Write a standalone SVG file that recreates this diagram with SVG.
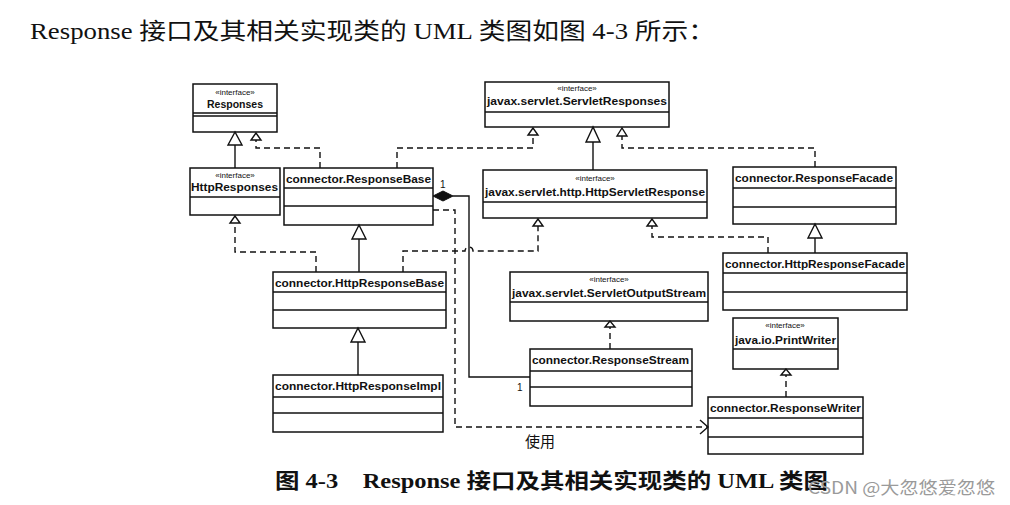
<svg xmlns="http://www.w3.org/2000/svg" width="1010" height="505" viewBox="0 0 1010 505">
<defs>
<style>
.box{fill:#fff;stroke:#111;stroke-width:1.5}
.sep{stroke:#111;stroke-width:1.3}
.nm{font-family:"Liberation Sans",Arial,sans-serif;font-weight:bold;font-size:10.5px;fill:#111}
.st{font-family:"Liberation Sans",Arial,sans-serif;font-size:8px;fill:#111;text-anchor:middle}
.solid{fill:none;stroke:#111;stroke-width:1.4}
.dash{fill:none;stroke:#111;stroke-width:1.4;stroke-dasharray:6,4}
.tri{fill:#fff;stroke:#111;stroke-width:1.4}
.lbl{font-family:"Liberation Sans",Arial,sans-serif;font-size:10px;fill:#111}
</style>
</defs>
<rect width="1010" height="505" fill="#fff"/>
<text x="30" y="39" font-family="'Liberation Serif','Noto Sans CJK SC',serif" font-size="23" fill="#111" textLength="685" lengthAdjust="spacingAndGlyphs">Response 接口及其相关实现类的 UML 类图如图 4-3 所示：</text>

<g id="Responses">
<rect class="box" x="193" y="84" width="84" height="48"/>
<text class="st" x="235" y="95">«interface»</text>
<text class="nm" x="235" y="108" text-anchor="middle">Responses</text>
<line class="sep" x1="193" y1="113" x2="277" y2="113"/>
<line class="sep" x1="193" y1="116" x2="277" y2="116"/>
</g>
<g id="HttpResponses">
<rect class="box" x="190" y="168" width="90" height="47"/>
<text class="st" x="235" y="178">«interface»</text>
<text class="nm" x="191" y="191" textLength="87" lengthAdjust="spacingAndGlyphs">HttpResponses</text>
<line class="sep" x1="190" y1="197" x2="280" y2="197"/>
</g>
<g id="ResponseBase">
<rect class="box" x="284" y="168" width="149" height="57"/>
<text class="nm" x="286" y="183" textLength="145" lengthAdjust="spacingAndGlyphs">connector.ResponseBase</text>
<line class="sep" x1="284" y1="188" x2="433" y2="188"/>
<line class="sep" x1="284" y1="206" x2="433" y2="206"/>
</g>
<g id="ServletResponses">
<rect class="box" x="485" y="82" width="184" height="45"/>
<text class="st" x="577" y="91">«interface»</text>
<text class="nm" x="487" y="105" textLength="180" lengthAdjust="spacingAndGlyphs">javax.servlet.ServletResponses</text>
<line class="sep" x1="485" y1="112" x2="669" y2="112"/>
</g>
<g id="HttpServletResponse">
<rect class="box" x="483" y="170" width="224" height="48"/>
<text class="st" x="595" y="181">«interface»</text>
<text class="nm" x="485" y="196" textLength="220" lengthAdjust="spacingAndGlyphs">javax.servlet.http.HttpServletResponse</text>
<line class="sep" x1="483" y1="202" x2="707" y2="202"/>
</g>
<g id="ResponseFacade">
<rect class="box" x="733" y="167" width="163" height="57"/>
<text class="nm" x="735" y="182" textLength="158" lengthAdjust="spacingAndGlyphs">connector.ResponseFacade</text>
<line class="sep" x1="733" y1="188" x2="896" y2="188"/>
<line class="sep" x1="733" y1="207" x2="896" y2="207"/>
</g>
<g id="HttpResponseFacade">
<rect class="box" x="723" y="253" width="184" height="57"/>
<text class="nm" x="725" y="268" textLength="180" lengthAdjust="spacingAndGlyphs">connector.HttpResponseFacade</text>
<line class="sep" x1="723" y1="273" x2="907" y2="273"/>
<line class="sep" x1="723" y1="292" x2="907" y2="292"/>
</g>
<g id="HttpResponseBase">
<rect class="box" x="273" y="272" width="173" height="56"/>
<text class="nm" x="275" y="287" textLength="169" lengthAdjust="spacingAndGlyphs">connector.HttpResponseBase</text>
<line class="sep" x1="273" y1="292" x2="446" y2="292" stroke-width="2.2"/>
<line class="sep" x1="273" y1="310" x2="446" y2="310"/>
</g>
<g id="HttpResponseImpl">
<rect class="box" x="273" y="375" width="170" height="57"/>
<text class="nm" x="275" y="390" textLength="166" lengthAdjust="spacingAndGlyphs">connector.HttpResponseImpl</text>
<line class="sep" x1="273" y1="397" x2="443" y2="397"/>
<line class="sep" x1="273" y1="413" x2="443" y2="413"/>
</g>
<g id="ServletOutputStream">
<rect class="box" x="510" y="272" width="198" height="49"/>
<text class="st" x="609" y="282">«interface»</text>
<text class="nm" x="512" y="297" textLength="194" lengthAdjust="spacingAndGlyphs">javax.servlet.ServletOutputStream</text>
<line class="sep" x1="510" y1="302" x2="708" y2="302"/>
</g>
<g id="ResponseStream">
<rect class="box" x="530" y="349" width="162" height="57"/>
<text class="nm" x="532" y="364" textLength="157" lengthAdjust="spacingAndGlyphs">connector.ResponseStream</text>
<line class="sep" x1="530" y1="371" x2="692" y2="371"/>
<line class="sep" x1="530" y1="387" x2="692" y2="387"/>
</g>
<g id="PrintWriter">
<rect class="box" x="733" y="318" width="105" height="51"/>
<text class="st" x="785" y="328">«interface»</text>
<text class="nm" x="735" y="344" textLength="101" lengthAdjust="spacingAndGlyphs">java.io.PrintWriter</text>
<line class="sep" x1="733" y1="349" x2="838" y2="349"/>
</g>
<g id="ResponseWriter">
<rect class="box" x="708" y="397" width="155" height="57"/>
<text class="nm" x="710" y="412" textLength="151" lengthAdjust="spacingAndGlyphs">connector.ResponseWriter</text>
<line class="sep" x1="708" y1="418" x2="863" y2="418"/>
<line class="sep" x1="708" y1="437" x2="863" y2="437"/>
</g>

<g id="connectors">
<!-- HttpResponses -> Responses -->
<path class="solid" d="M235,168 V145"/>
<polygon class="tri" points="235,132 228,145 242,145"/>
<!-- ResponseBase -> Responses -->
<path class="dash" d="M320,168 V148 H256 V140"/>
<polygon class="tri" points="256,133 251,140 261,140"/>
<!-- ResponseBase -> ServletResponses -->
<path class="dash" d="M397,168 V148 H533 V135"/>
<polygon class="tri" points="533,128 528,135 538,135"/>
<!-- HttpServletResponse -> ServletResponses -->
<path class="solid" d="M593,170 V142"/>
<polygon class="tri" points="593,127 586,142 600,142"/>
<!-- ResponseFacade -> ServletResponses -->
<path class="dash" d="M815,167 V148 H622 V136"/>
<polygon class="tri" points="622,128 617,136 627,136"/>
<!-- HttpResponseFacade -> ResponseFacade -->
<path class="solid" d="M815,253 V238"/>
<polygon class="tri" points="815,224 808,238 822,238"/>
<!-- HttpResponseFacade -> HttpServletResponse -->
<path class="dash" d="M768,253 V237 H652 V226"/>
<polygon class="tri" points="652,219 647,226 657,226"/>
<!-- HttpResponseBase -> HttpServletResponse -->
<path class="dash" d="M403,272 V251 H465 A4,4 0 0 1 473,251 H538 V226"/>
<polygon class="tri" points="538,219 533,226 543,226"/>
<!-- HttpResponseBase -> HttpResponses -->
<path class="dash" d="M316,272 V252 H235 V223"/>
<polygon class="tri" points="235,216 230,223 240,223"/>
<!-- HttpResponseBase -> ResponseBase -->
<path class="solid" d="M359,272 V239"/>
<polygon class="tri" points="359,225 352,239 366,239"/>
<!-- HttpResponseImpl -> HttpResponseBase -->
<path class="solid" d="M358,375 V342"/>
<polygon class="tri" points="358,328 351,342 365,342"/>
<!-- composition ResponseBase <>- ResponseStream -->
<path class="solid" d="M453,196 H469 V377 H530"/>
<polygon points="433,196 443,191 453,196 443,201" fill="#111" stroke="#111" stroke-width="1"/>
<text class="lbl" x="440" y="188">1</text>
<text class="lbl" x="517" y="391">1</text>
<!-- ResponseStream -> ServletOutputStream -->
<path class="dash" d="M610,349 V327"/>
<polygon class="tri" points="610,321 605,327 615,327"/>
<!-- ResponseWriter -> PrintWriter -->
<path class="dash" d="M786,397 V375"/>
<polygon class="tri" points="786,369 781,375 791,375"/>
<!-- use dependency -->
<path class="dash" d="M433,210 H455 V427 H707"/>
<path class="solid" d="M700,420 L708,427 L700,434"/>
<text x="540" y="447" font-family="'Noto Sans CJK SC',sans-serif" font-size="15" fill="#111" text-anchor="middle">使用</text>
</g>

<text x="275" y="488" font-family="'Liberation Serif','Noto Sans CJK SC',serif" font-size="21" font-weight="bold" fill="#111" textLength="553" lengthAdjust="spacingAndGlyphs">图 4-3　Response 接口及其相关实现类的 UML 类图</text>
<text x="808" y="494" font-family="'Noto Sans CJK SC',sans-serif" font-size="17" fill="#9a9a9a" textLength="187" lengthAdjust="spacingAndGlyphs">CSDN @大忽悠爱忽悠</text>
</svg>
